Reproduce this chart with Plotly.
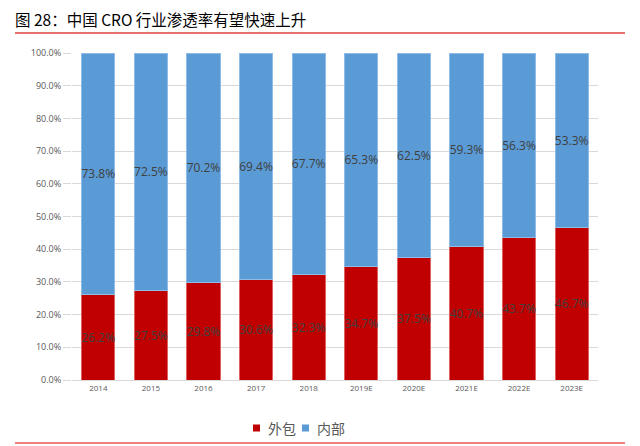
import plotly.graph_objects as go

years = ["2014", "2015", "2016", "2017", "2018", "2019E", "2020E", "2021E", "2022E", "2023E"]
outsourced = [26.2, 27.5, 29.8, 30.6, 32.3, 34.7, 37.5, 40.7, 43.7, 46.7]
inhouse = [73.8, 72.5, 70.2, 69.4, 67.7, 65.3, 62.5, 59.3, 56.3, 53.3]
yticks = [0, 10, 20, 30, 40, 50, 60, 70, 80, 90, 100]
series_names = ["外包", "内部"]
series_colors = ["#C00000", "#5B9BD5"]

label_font = dict(family="Open Sans, Liberation Sans, sans-serif", size=12, color="#404040")

fig = go.Figure()
fig.add_trace(go.Bar(
    x=years, y=outsourced, name=series_names[0],
    marker=dict(color=series_colors[0], line=dict(color="#E06060", width=1)),
    text=[f"{v:.1f}%" for v in outsourced], textposition="inside",
    insidetextanchor="middle", textfont=label_font, textangle=0,
    constraintext="none",
))
fig.add_trace(go.Bar(
    x=years, y=inhouse, name=series_names[1],
    marker=dict(color=series_colors[1], line=dict(color="#8FBCE6", width=1)),
    text=[f"{v:.1f}%" for v in inhouse], textposition="inside",
    insidetextanchor="middle", textfont=label_font, textangle=0,
    constraintext="none",
))

# page body has an 8px margin; figure sized to fit the window exactly
OFF = 8
W, H = 640 - OFF, 446 - OFF
# plot area in screen coordinates
SX0, SX1, SY0, SY1 = 72, 598, 53, 380
L, R, T, B = SX0 - OFF, W - (SX1 - OFF), SY0 - OFF, H - (SY1 - OFF)
pw, ph = W - L - R, H - T - B

def px(sx):
    return (sx - OFF - L) / pw

def py(sy):
    return (H - B - (sy - OFF)) / ph

fig.update_layout(
    barmode="stack",
    bargap=0.37,
    width=W, height=H,
    margin=dict(l=L, r=R, t=T, b=B, autoexpand=False),
    paper_bgcolor="white", plot_bgcolor="white",
    uniformtext=dict(mode="show", minsize=12),
    showlegend=False,
    xaxis=dict(showgrid=False, showline=True, linecolor="#D9D9D9", linewidth=1,
               automargin=False,
               tickfont=dict(family="Open Sans, sans-serif", size=8, color="#595959"),
               ticks=""),
    yaxis=dict(range=[0, 100], tickvals=yticks, ticktext=[f"{v:.1f}%" for v in yticks],
               automargin=False,
               showgrid=True, gridcolor="#D9D9D9", gridwidth=1, zeroline=False,
               ticks="outside", ticklen=8, tickcolor="#D9D9D9",
               tickfont=dict(family="Open Sans, sans-serif", size=9, color="#595959")),
)

# title and rules
fig.add_annotation(text="图 28：中国 CRO 行业渗透率有望快速上升", xref="paper", yref="paper",
                   x=px(14), y=py(18.5), xanchor="left", yanchor="middle", showarrow=False,
                   borderpad=0,
                   font=dict(family="Noto Sans CJK SC", size=15.5, color="#000000"))
fig.add_shape(type="line", xref="paper", yref="paper", x0=px(15), x1=px(625),
              y0=py(33), y1=py(33), line=dict(color="#E0403F", width=1.5))
fig.add_shape(type="line", xref="paper", yref="paper", x0=px(15), x1=px(625),
              y0=py(443), y1=py(443), line=dict(color="#F08080", width=2))

# legend
legend_x = [253, 302]
for name, color, lx in zip(series_names, series_colors, legend_x):
    fig.add_shape(type="rect", xref="paper", yref="paper",
                  x0=px(lx), x1=px(lx + 7), y0=py(424.5), y1=py(431.5),
                  fillcolor=color, line=dict(width=0))
    fig.add_annotation(text=name, xref="paper", yref="paper", x=px(lx + 13), y=py(428),
                       xanchor="left", yanchor="middle", showarrow=False,
                       font=dict(family="Noto Sans CJK SC", size=14, color="#595959"))

fig.write_html("out.html")
